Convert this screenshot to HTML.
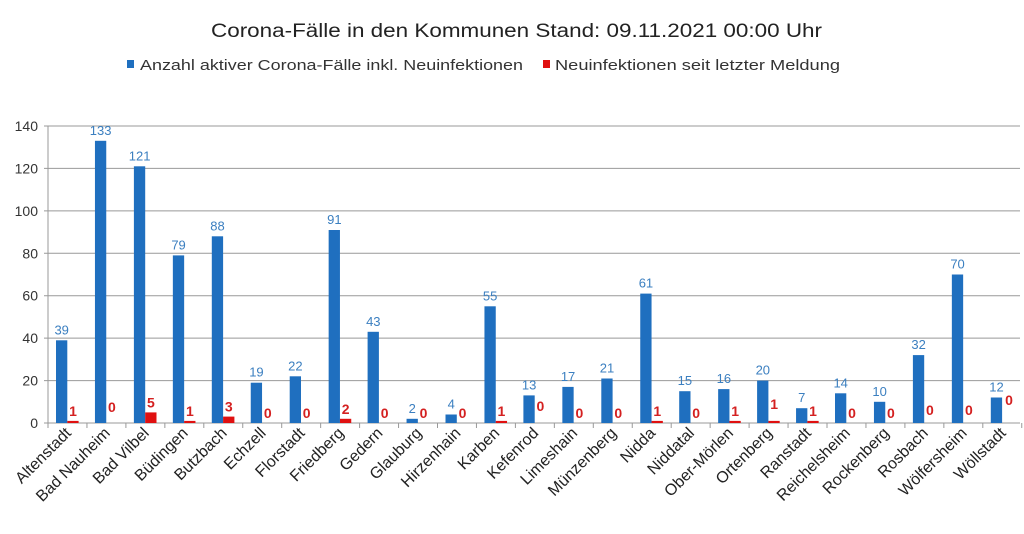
<!DOCTYPE html>
<html><head><meta charset="utf-8"><style>body{margin:0;background:#fff}svg{display:block}
.b{fill:#1f6fbf}.r{fill:#e01010}.bl{font-size:13px;fill:#3b7fc0;text-anchor:middle}.rl{font-size:14px;font-weight:bold;fill:#d42020;text-anchor:middle}.yl{font-size:14px;fill:#333;text-anchor:end}.cl{font-size:16px;fill:#222;text-anchor:end}</style></head><body>
<svg width="1024" height="534" xmlns="http://www.w3.org/2000/svg" font-family="Liberation Sans, sans-serif">
<text x="211" y="37" font-size="19" fill="#222" textLength="611" lengthAdjust="spacingAndGlyphs">Corona-Fälle in den Kommunen Stand: 09.11.2021 00:00 Uhr</text>
<rect x="127" y="60" width="7" height="8" fill="#1f6fbf"/>
<text x="140" y="70" font-size="15" fill="#333" textLength="383" lengthAdjust="spacingAndGlyphs">Anzahl aktiver Corona-Fälle inkl. Neuinfektionen</text>
<rect x="543" y="60" width="7" height="8" fill="#e01010"/>
<text x="555" y="70" font-size="15" fill="#333" textLength="285" lengthAdjust="spacingAndGlyphs">Neuinfektionen seit letzter Meldung</text>
<g stroke="#999" stroke-width="1">
<line x1="44" x2="1020" y1="423" y2="423"/><line x1="44" x2="1020" y1="380.57" y2="380.57"/><line x1="44" x2="1020" y1="338.14" y2="338.14"/><line x1="44" x2="1020" y1="295.71" y2="295.71"/><line x1="44" x2="1020" y1="253.29" y2="253.29"/><line x1="44" x2="1020" y1="210.86" y2="210.86"/><line x1="44" x2="1020" y1="168.43" y2="168.43"/><line x1="44" x2="1020" y1="126" y2="126"/>
<line x1="48" x2="48" y1="126" y2="428"/>
<line x1="86.95" x2="86.95" y1="423" y2="428"/><line x1="125.9" x2="125.9" y1="423" y2="428"/><line x1="164.85" x2="164.85" y1="423" y2="428"/><line x1="203.8" x2="203.8" y1="423" y2="428"/><line x1="242.75" x2="242.75" y1="423" y2="428"/><line x1="281.7" x2="281.7" y1="423" y2="428"/><line x1="320.65" x2="320.65" y1="423" y2="428"/><line x1="359.6" x2="359.6" y1="423" y2="428"/><line x1="398.55" x2="398.55" y1="423" y2="428"/><line x1="437.5" x2="437.5" y1="423" y2="428"/><line x1="476.45" x2="476.45" y1="423" y2="428"/><line x1="515.4" x2="515.4" y1="423" y2="428"/><line x1="554.35" x2="554.35" y1="423" y2="428"/><line x1="593.3" x2="593.3" y1="423" y2="428"/><line x1="632.25" x2="632.25" y1="423" y2="428"/><line x1="671.2" x2="671.2" y1="423" y2="428"/><line x1="710.15" x2="710.15" y1="423" y2="428"/><line x1="749.1" x2="749.1" y1="423" y2="428"/><line x1="788.05" x2="788.05" y1="423" y2="428"/><line x1="827" x2="827" y1="423" y2="428"/><line x1="865.95" x2="865.95" y1="423" y2="428"/><line x1="904.9" x2="904.9" y1="423" y2="428"/><line x1="943.85" x2="943.85" y1="423" y2="428"/><line x1="982.8" x2="982.8" y1="423" y2="428"/><line x1="1021.75" x2="1021.75" y1="423" y2="428"/>
</g>
<text class="yl" x="38" y="428">0</text><text class="yl" x="38" y="385.6">20</text><text class="yl" x="38" y="343.1">40</text><text class="yl" x="38" y="300.7">60</text><text class="yl" x="38" y="258.3">80</text><text class="yl" x="38" y="215.9">100</text><text class="yl" x="38" y="173.4">120</text><text class="yl" x="38" y="131">140</text>

<rect class="b" x="56" y="340.3" width="11.3" height="82.7"/>
<rect class="b" x="94.95" y="140.8" width="11.3" height="282.2"/>
<rect class="b" x="133.9" y="166.3" width="11.3" height="256.7"/>
<rect class="b" x="172.85" y="255.4" width="11.3" height="167.6"/>
<rect class="b" x="211.8" y="236.3" width="11.3" height="186.7"/>
<rect class="b" x="250.75" y="382.7" width="11.3" height="40.3"/>
<rect class="b" x="289.7" y="376.3" width="11.3" height="46.7"/>
<rect class="b" x="328.65" y="230" width="11.3" height="193"/>
<rect class="b" x="367.6" y="331.8" width="11.3" height="91.2"/>
<rect class="b" x="406.55" y="418.8" width="11.3" height="4.2"/>
<rect class="b" x="445.5" y="414.5" width="11.3" height="8.5"/>
<rect class="b" x="484.45" y="306.3" width="11.3" height="116.7"/>
<rect class="b" x="523.4" y="395.4" width="11.3" height="27.6"/>
<rect class="b" x="562.35" y="386.9" width="11.3" height="36.1"/>
<rect class="b" x="601.3" y="378.5" width="11.3" height="44.5"/>
<rect class="b" x="640.25" y="293.6" width="11.3" height="129.4"/>
<rect class="b" x="679.2" y="391.2" width="11.3" height="31.8"/>
<rect class="b" x="718.15" y="389.1" width="11.3" height="33.9"/>
<rect class="b" x="757.1" y="380.6" width="11.3" height="42.4"/>
<rect class="b" x="796.05" y="408.2" width="11.3" height="14.8"/>
<rect class="b" x="835" y="393.3" width="11.3" height="29.7"/>
<rect class="b" x="873.95" y="401.8" width="11.3" height="21.2"/>
<rect class="b" x="912.9" y="355.1" width="11.3" height="67.9"/>
<rect class="b" x="951.85" y="274.5" width="11.3" height="148.5"/>
<rect class="b" x="990.8" y="397.5" width="11.3" height="25.5"/>

<rect class="r" x="67.3" y="420.9" width="11.3" height="2.1"/>
<rect class="r" x="145.2" y="412.4" width="11.3" height="10.6"/>
<rect class="r" x="184.15" y="420.9" width="11.3" height="2.1"/>
<rect class="r" x="223.1" y="416.6" width="11.3" height="6.4"/>
<rect class="r" x="339.95" y="418.8" width="11.3" height="4.2"/>
<rect class="r" x="495.75" y="420.9" width="11.3" height="2.1"/>
<rect class="r" x="651.55" y="420.9" width="11.3" height="2.1"/>
<rect class="r" x="729.45" y="420.9" width="11.3" height="2.1"/>
<rect class="r" x="768.4" y="420.9" width="11.3" height="2.1"/>
<rect class="r" x="807.35" y="420.9" width="11.3" height="2.1"/>

<text class="bl" x="61.7" y="334.3">39</text>
<text class="bl" x="100.65" y="134.8">133</text>
<text class="bl" x="139.6" y="160.3">121</text>
<text class="bl" x="178.55" y="249.4">79</text>
<text class="bl" x="217.5" y="230.3">88</text>
<text class="bl" x="256.45" y="376.7">19</text>
<text class="bl" x="295.4" y="370.3">22</text>
<text class="bl" x="334.35" y="224">91</text>
<text class="bl" x="373.3" y="325.8">43</text>
<text class="bl" x="412.25" y="412.8">2</text>
<text class="bl" x="451.2" y="408.5">4</text>
<text class="bl" x="490.15" y="300.3">55</text>
<text class="bl" x="529.1" y="389.4">13</text>
<text class="bl" x="568.05" y="380.9">17</text>
<text class="bl" x="607" y="372.5">21</text>
<text class="bl" x="645.95" y="287.6">61</text>
<text class="bl" x="684.9" y="385.2">15</text>
<text class="bl" x="723.85" y="383.1">16</text>
<text class="bl" x="762.8" y="374.6">20</text>
<text class="bl" x="801.75" y="402.2">7</text>
<text class="bl" x="840.7" y="387.3">14</text>
<text class="bl" x="879.65" y="395.8">10</text>
<text class="bl" x="918.6" y="349.1">32</text>
<text class="bl" x="957.55" y="268.5">70</text>
<text class="bl" x="996.5" y="391.5">12</text>

<text class="rl" x="73" y="415.9">1</text>
<text class="rl" x="111.95" y="412">0</text>
<text class="rl" x="150.9" y="407.4">5</text>
<text class="rl" x="189.85" y="415.9">1</text>
<text class="rl" x="228.8" y="411.6">3</text>
<text class="rl" x="267.75" y="418">0</text>
<text class="rl" x="306.7" y="418">0</text>
<text class="rl" x="345.65" y="413.8">2</text>
<text class="rl" x="384.6" y="418">0</text>
<text class="rl" x="423.55" y="418">0</text>
<text class="rl" x="462.5" y="418">0</text>
<text class="rl" x="501.45" y="415.9">1</text>
<text class="rl" x="540.4" y="411">0</text>
<text class="rl" x="579.35" y="418">0</text>
<text class="rl" x="618.3" y="418">0</text>
<text class="rl" x="657.25" y="415.9">1</text>
<text class="rl" x="696.2" y="418">0</text>
<text class="rl" x="735.15" y="415.9">1</text>
<text class="rl" x="774.1" y="409">1</text>
<text class="rl" x="813.05" y="415.9">1</text>
<text class="rl" x="852" y="418">0</text>
<text class="rl" x="890.95" y="418">0</text>
<text class="rl" x="929.9" y="415">0</text>
<text class="rl" x="968.85" y="415">0</text>
<text class="rl" x="1009" y="405">0</text>

<text class="cl" transform="translate(72,434) rotate(-45)">Altenstadt</text>
<text class="cl" transform="translate(110.95,434) rotate(-45)">Bad Nauheim</text>
<text class="cl" transform="translate(149.9,434) rotate(-45)">Bad Vilbel</text>
<text class="cl" transform="translate(188.85,434) rotate(-45)">Büdingen</text>
<text class="cl" transform="translate(227.8,434) rotate(-45)">Butzbach</text>
<text class="cl" transform="translate(266.75,434) rotate(-45)">Echzell</text>
<text class="cl" transform="translate(305.7,434) rotate(-45)">Florstadt</text>
<text class="cl" transform="translate(344.65,434) rotate(-45)">Friedberg</text>
<text class="cl" transform="translate(383.6,434) rotate(-45)">Gedern</text>
<text class="cl" transform="translate(422.55,434) rotate(-45)">Glauburg</text>
<text class="cl" transform="translate(461.5,434) rotate(-45)">Hirzenhain</text>
<text class="cl" transform="translate(500.45,434) rotate(-45)">Karben</text>
<text class="cl" transform="translate(539.4,434) rotate(-45)">Kefenrod</text>
<text class="cl" transform="translate(578.35,434) rotate(-45)">Limeshain</text>
<text class="cl" transform="translate(617.3,434) rotate(-45)">Münzenberg</text>
<text class="cl" transform="translate(656.25,434) rotate(-45)">Nidda</text>
<text class="cl" transform="translate(695.2,434) rotate(-45)">Niddatal</text>
<text class="cl" transform="translate(734.15,434) rotate(-45)">Ober-Mörlen</text>
<text class="cl" transform="translate(773.1,434) rotate(-45)">Ortenberg</text>
<text class="cl" transform="translate(812.05,434) rotate(-45)">Ranstadt</text>
<text class="cl" transform="translate(851,434) rotate(-45)">Reichelsheim</text>
<text class="cl" transform="translate(889.95,434) rotate(-45)">Rockenberg</text>
<text class="cl" transform="translate(928.9,434) rotate(-45)">Rosbach</text>
<text class="cl" transform="translate(967.85,434) rotate(-45)">Wölfersheim</text>
<text class="cl" transform="translate(1006.8,434) rotate(-45)">Wöllstadt</text>
</svg>
</body></html>
